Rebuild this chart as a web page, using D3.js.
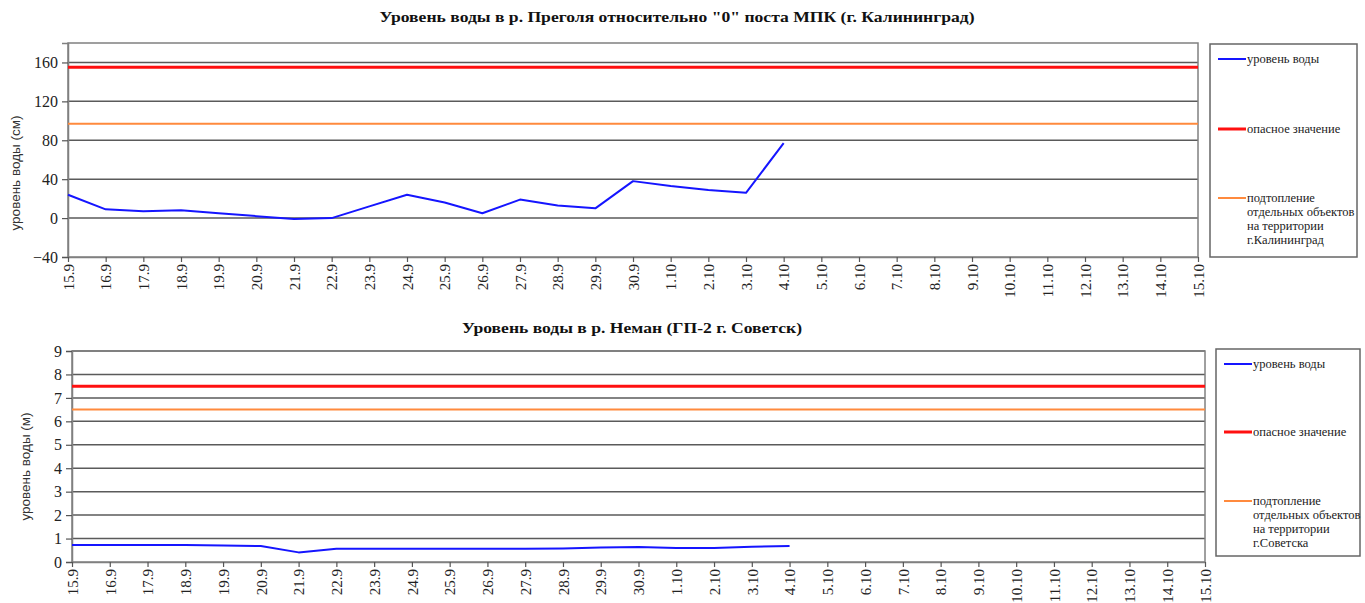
<!DOCTYPE html>
<html lang="ru">
<head>
  <meta charset="UTF-8">
  <title>Уровень воды</title>
  <script src="https://d3js.org/d3.v7.min.js"></script>
  <style>
    body { margin: 0; background: #fff; }
  </style>
</head>
<body>
<svg id="chart" width="1365" height="603"></svg>
<script>
  const dates = ['15.9', '16.9', '17.9', '18.9', '19.9', '20.9', '21.9', '22.9', '23.9', '24.9',
    '25.9', '26.9', '27.9', '28.9', '29.9', '30.9', '1.10', '2.10', '3.10', '4.10', '5.10',
    '6.10', '7.10', '8.10', '9.10', '10.10', '11.10', '12.10', '13.10', '14.10', '15.10'];

  // р. Преголя, см
  const pregolyaLevel = [24, 9, 7, 8, 5, 2, -1, 0, 12, 24, 16, 5, 19, 13, 10, 38, 33, 29, 26, 77];
  const pregolyaDanger = 155;
  const pregolyaFlood = 97;
  const pregolyaTicks = [-40, 0, 40, 80, 120, 160];

  // р. Неман, м
  const nemanLevel = [0.72, 0.72, 0.72, 0.72, 0.70, 0.68, 0.41, 0.57, 0.57, 0.57, 0.57, 0.57,
    0.57, 0.58, 0.62, 0.64, 0.60, 0.60, 0.65, 0.68];
  const nemanDanger = 7.5;
  const nemanFlood = 6.5;
  const nemanTicks = [0, 1, 2, 3, 4, 5, 6, 7, 8, 9];

  const legendNames = ['уровень воды', 'опасное значение'];
  const colors = { level: '#1515ff', danger: '#ff1010', flood: '#ff8a3d' };
  const serif = "'Liberation Serif', 'Times New Roman', serif";
  const sans = "'Liberation Sans', Arial, sans-serif";

  const svg = d3.select('#chart');

  function drawChart(c) {
    const x = d3.scalePoint().domain(dates).range([c.left, c.right]);
    const y = d3.scaleLinear().domain(c.domain).range([c.bottom, c.top]);
    const g = svg.append('g');

    g.append('text')
      .attr('x', c.titleX)
      .attr('y', c.titleY)
      .attr('text-anchor', 'middle')
      .attr('textLength', c.titleW)
      .attr('lengthAdjust', 'spacingAndGlyphs')
      .style('font-family', serif)
      .style('font-weight', 'bold')
      .style('font-size', '15px')
      .style('fill', '#111')
      .text(c.title);

    // grid
    g.append('g')
      .selectAll('line')
      .data(c.ticks.filter(t => t > c.domain[0]))
      .enter().append('line')
      .attr('x1', c.left).attr('x2', c.right)
      .attr('y1', d => y(d)).attr('y2', d => y(d))
      .attr('stroke', '#5a5a5a')
      .attr('stroke-width', 1.5);

    // plot frame
    g.append('rect')
      .attr('x', c.left).attr('y', c.top)
      .attr('width', c.right - c.left).attr('height', c.bottom - c.top)
      .attr('fill', 'none')
      .attr('stroke', '#808080')
      .attr('stroke-width', 1.5);

    // y axis
    const yAxis = g.append('g')
      .attr('transform', `translate(${c.left},0)`)
      .call(d3.axisLeft(y).tickValues(c.ticks).tickSize(6).tickPadding(4).tickFormat(d3.format('d')));
    yAxis.select('.domain').attr('stroke', '#808080').attr('stroke-width', 1.5);
    yAxis.selectAll('.tick line').attr('stroke', '#555').attr('stroke-width', 1.2);
    yAxis.selectAll('text')
      .style('font-family', serif)
      .style('font-size', '16px')
      .style('fill', '#222');

    // x axis
    const xAxis = g.append('g')
      .attr('transform', `translate(0,${c.bottom})`)
      .call(d3.axisBottom(x).tickSize(5).tickSizeOuter(0));
    xAxis.select('.domain').attr('stroke', '#808080').attr('stroke-width', 1.5);
    xAxis.selectAll('.tick line').attr('stroke', '#555').attr('stroke-width', 1.2);
    xAxis.selectAll('text')
      .style('font-family', serif)
      .style('font-size', '15px')
      .style('fill', '#222')
      .attr('transform', 'rotate(-90)')
      .attr('text-anchor', 'end')
      .attr('x', -7)
      .attr('y', 0)
      .attr('dy', '0.35em');

    g.append('text')
      .attr('transform', `translate(${c.yLabelX},${(c.top + c.bottom) / 2 + c.yLabelShift}) rotate(-90)`)
      .attr('text-anchor', 'middle')
      .style('font-family', sans)
      .style('font-size', '13.5px')
      .style('fill', '#333')
      .text(c.yLabel);

    // threshold lines
    g.append('line')
      .attr('x1', c.left).attr('x2', c.right)
      .attr('y1', y(c.flood)).attr('y2', y(c.flood))
      .attr('stroke', colors.flood).attr('stroke-width', 2);
    g.append('line')
      .attr('x1', c.left).attr('x2', c.right)
      .attr('y1', y(c.danger)).attr('y2', y(c.danger))
      .attr('stroke', colors.danger).attr('stroke-width', 3);

    const line = d3.line()
      .x((d, i) => x(dates[i]))
      .y(d => y(d));
    g.append('path')
      .datum(c.level)
      .attr('d', line)
      .attr('fill', 'none')
      .attr('stroke', colors.level)
      .attr('stroke-width', 2)
      .attr('stroke-linejoin', 'round');

    // legend
    const lg = g.append('g');
    lg.append('rect')
      .attr('x', c.legend.x).attr('y', c.legend.y)
      .attr('width', c.legend.w).attr('height', c.legend.h)
      .attr('fill', '#fff')
      .attr('stroke', '#666')
      .attr('stroke-width', 1.5);

    const items = [
      { color: colors.level, width: 2, lines: [legendNames[0]] },
      { color: colors.danger, width: 3, lines: [legendNames[1]] },
      { color: colors.flood, width: 2, lines: c.floodLabel }
    ];
    items.forEach((it, i) => {
      const yy = c.legend.rows[i];
      lg.append('line')
        .attr('x1', c.legend.x + 8).attr('x2', c.legend.x + 36)
        .attr('y1', yy).attr('y2', yy)
        .attr('stroke', it.color).attr('stroke-width', it.width);
      const t = lg.append('text')
        .attr('x', c.legend.x + 37)
        .attr('y', yy)
        .style('font-family', serif)
        .style('font-size', '12.5px')
        .style('fill', '#222');
      it.lines.forEach((s, j) => {
        t.append('tspan')
          .attr('x', c.legend.x + 37)
          .attr('dy', j === 0 ? '0.35em' : 14)
          .text(s);
      });
    });
  }

  drawChart({
    title: 'Уровень воды в р. Преголя относительно "0" поста МПК (г. Калининград)',
    titleX: 677, titleY: 22, titleW: 595,
    left: 68, right: 1198, top: 43, bottom: 257,
    domain: [-40, 180], ticks: pregolyaTicks,
    level: pregolyaLevel, danger: pregolyaDanger, flood: pregolyaFlood,
    yLabel: 'уровень воды (см)', yLabelX: 20, yLabelShift: 23,
    floodLabel: ['подтопление', 'отдельных объектов', 'на территории', 'г.Калининград'],
    legend: { x: 1210, y: 44, w: 147, h: 213, rows: [59, 129, 198] }
  });

  drawChart({
    title: 'Уровень воды в р. Неман (ГП-2 г. Советск)',
    titleX: 632, titleY: 333, titleW: 340,
    left: 72, right: 1205, top: 351, bottom: 562,
    domain: [0, 9], ticks: nemanTicks,
    level: nemanLevel, danger: nemanDanger, flood: nemanFlood,
    yLabel: 'уровень воды (м)', yLabelX: 30, yLabelShift: 10,
    floodLabel: ['подтопление', 'отдельных объектов', 'на территории', 'г.Советска'],
    legend: { x: 1216, y: 349, w: 144, h: 207, rows: [364, 432, 501] }
  });
</script>
</body>
</html>
